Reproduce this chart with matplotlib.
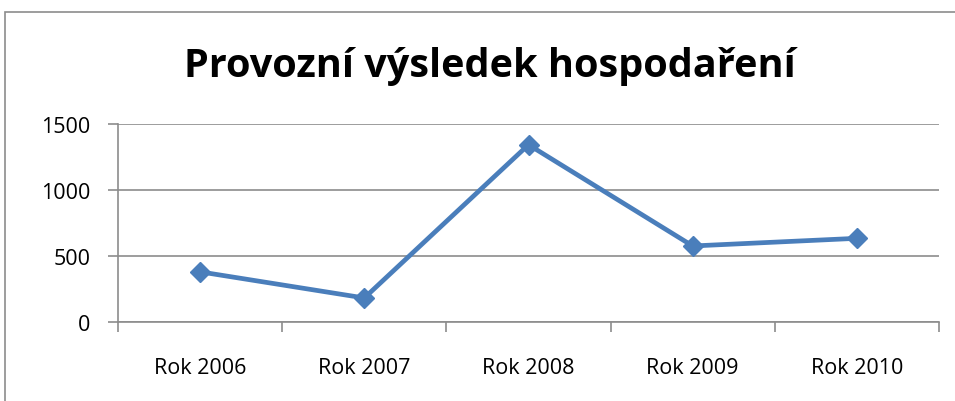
import matplotlib
matplotlib.use("Agg")
import matplotlib.pyplot as plt
from matplotlib.patches import Rectangle

categories = ["Rok 2006", "Rok 2007", "Rok 2008", "Rok 2009", "Rok 2010"]
values = [380, 182, 1343, 576, 634]
yticks = [0, 500, 1000, 1500]

fig = plt.figure(figsize=(9.55, 4.02), dpi=100)
fig.patches.append(Rectangle((5 / 955, -0.1), 1.2, 1 - 13 / 402 + 0.1,
                             transform=fig.transFigure, fill=False,
                             edgecolor="#8c8c8c", linewidth=1.2))

ax = fig.add_axes([118 / 955, 1 - 323 / 402, (939 - 118) / 955, (323 - 125) / 402])
x = list(range(len(categories)))
ax.plot(x, values, color="#4a7ebb", linewidth=3.4, marker="D",
        markersize=10.5, markerfacecolor="#4a7ebb", markeredgecolor="#4a7ebb")

ax.set_xlim(-0.5, len(categories) - 0.5)
ax.set_ylim(0, 1500)
ax.set_yticks(yticks)
ax.set_xticks(x)
ax.set_xticklabels(categories)
ax.set_xticks([i - 0.5 for i in range(len(categories) + 1)], minor=True)
ax.tick_params(axis="x", which="major", length=0, pad=25, labelsize=15.5)
ax.tick_params(axis="x", which="minor", length=7, color="#8c8c8c", width=1.2)
ax.tick_params(axis="y", length=7, color="#8c8c8c", width=1.2, labelsize=15.5, pad=13)
for lab in ax.get_xticklabels() + ax.get_yticklabels():
    lab.set_family("Open Sans")

ax.grid(True, axis="y", color="#8c8c8c", linewidth=1.2)
ax.set_axisbelow(True)
for side in ["top", "right"]:
    ax.spines[side].set_visible(False)
for side in ["left", "bottom"]:
    ax.spines[side].set_color("#8c8c8c")
    ax.spines[side].set_linewidth(1.2)

fig.text(0.513, 1 - 66 / 402, "Provozní výsledek hospodaření", ha="center", va="center",
         fontsize=28.5, fontweight="bold", family="Open Sans")

fig.savefig("out.png", dpi=100)
